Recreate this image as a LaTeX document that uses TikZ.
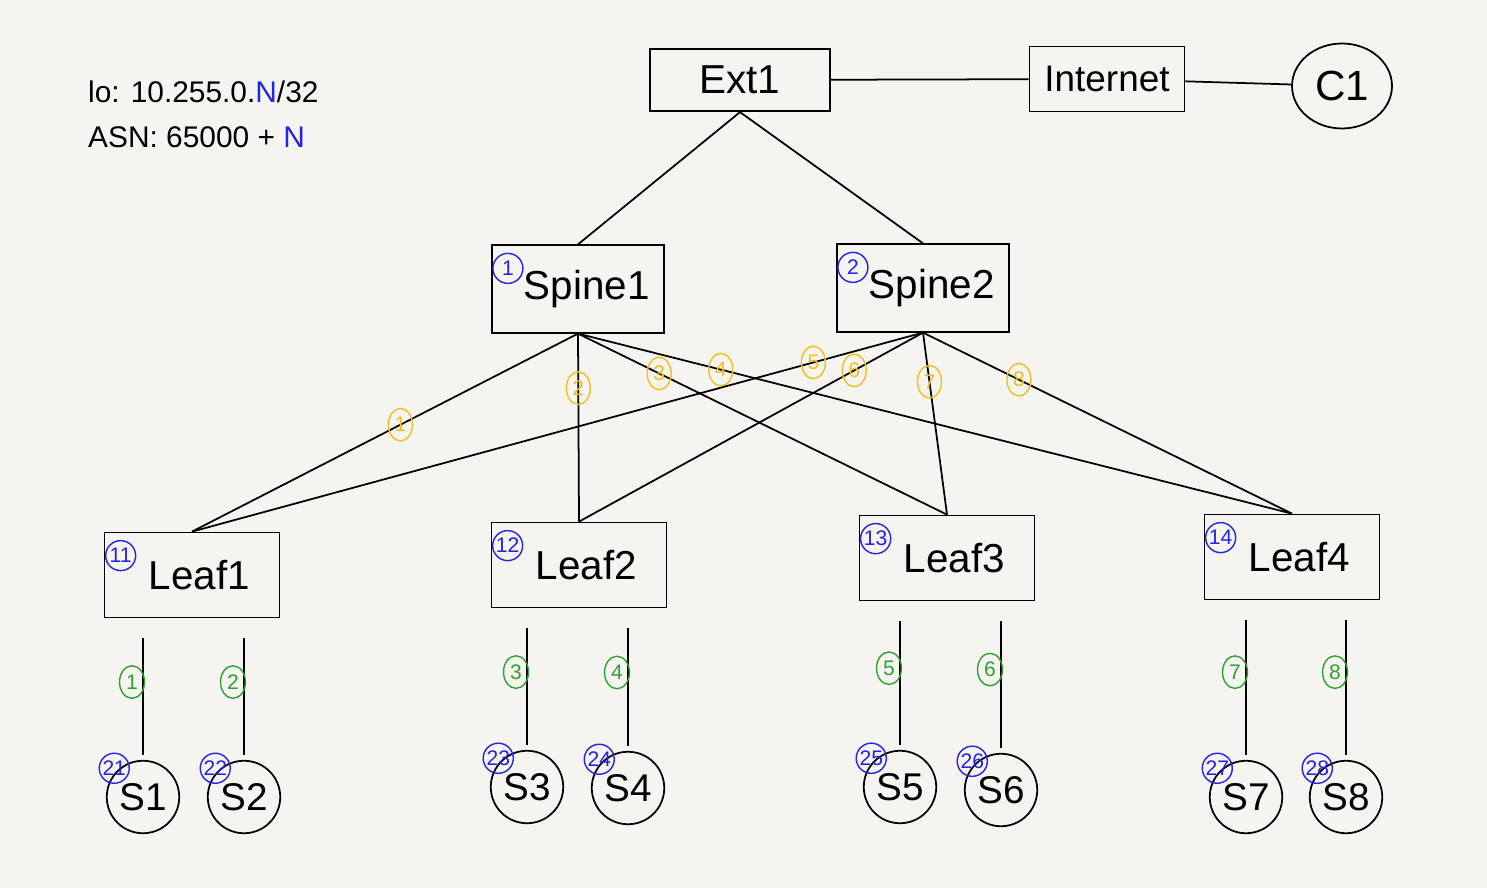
\documentclass[tikz,border=0pt]{standalone}
\usepackage{fontspec}
\setmainfont{Liberation Sans}
\usetikzlibrary{shapes.geometric}

\definecolor{paper}{HTML}{F5F4F0}
\definecolor{idblue}{HTML}{2424E6}
\definecolor{linkyellow}{HTML}{F0C020}
\definecolor{portgreen}{HTML}{33A033}

\tikzset{
	box/.style={draw, line width=1pt, minimum width=3.5cm, minimum height=1.7cm, font=\fontsize{23}{28}\selectfont},
	srv/.style={draw, circle, line width=1pt, minimum size=1.45cm, inner sep=0pt, font=\fontsize{22}{26}\selectfont},
	badge/.style={draw=idblue, circle, text=idblue, inner sep=0.5pt, minimum size=0.6cm, line width=0.8pt, font=\fontsize{12}{14}\selectfont},
	lnk/.style={draw=linkyellow, ellipse, text=linkyellow, inner sep=0.5pt, minimum width=0.48cm, minimum height=0.65cm, line width=0.8pt, font=\fontsize{12}{14}\selectfont},
	prt/.style={draw=portgreen, ellipse, text=portgreen, inner sep=0.5pt, minimum width=0.5cm, minimum height=0.65cm, line width=0.8pt, font=\fontsize{12}{14}\selectfont},
	wire/.style={line width=1pt}
}

\begin{document}
\begin{tikzpicture}[x=0.02cm, y=-0.02cm]

\fill[paper] (0,0) rectangle (1487,888);

% legend
\node [anchor=west, font=\fontsize{17}{20}\selectfont] (lo) at (82,92) {lo: 10.255.0.\textcolor{idblue}{N}/32};
\node [anchor=west, font=\fontsize{17}{20}\selectfont] (asn) at (82,137) {ASN: 65000 + \textcolor{idblue}{N}};

% outside
\node [box, minimum width=3.6cm, minimum height=1.25cm] (ext) at (740,80) {Ext1};
\node [box, minimum width=3.1cm, minimum height=1.3cm, font=\fontsize{21}{26}\selectfont] (inet) at (1107,79) {Internet};
\node [draw, ellipse, line width=1pt, minimum width=2cm, minimum height=1.7cm, font=\fontsize{24}{28}\selectfont] (c1) at (1342,86) {C1};

% spines and leaves
\node [box, minimum width=3.45cm, minimum height=1.75cm] (spine1) at (578,289) {\hspace{0.35cm}Spine1};
\node [box, minimum width=3.45cm, minimum height=1.75cm] (spine2) at (923,288) {\hspace{0.35cm}Spine2};
\node [box] (leaf1) at (192,575) {\hspace{0.3cm}Leaf1};
\node [box] (leaf2) at (579,565) {\hspace{0.3cm}Leaf2};
\node [box] (leaf3) at (947,558) {\hspace{0.3cm}Leaf3};
\node [box] (leaf4) at (1292,557) {\hspace{0.3cm}Leaf4};

% servers
\foreach \n/\x/\y in {1/143/797,2/244/797,3/527/787,4/628/788,5/900/787,6/1001/790,7/1246/797,8/1346/797} {
	\node [srv] (s\n) at (\x,\y) {S\n};
}

% ids
\foreach \n/\i in {spine1/1,spine2/2,leaf1/11,leaf2/12,leaf3/13,leaf4/14} {
	\node [badge] (id\n) at ([shift={(0.34cm,-0.48cm)}]\n.north west) {\i};
}
\foreach \n/\i in {1/21,2/22,3/23,4/24,5/25,6/26,7/27,8/28} {
	\node [badge] (ids\n) at ([shift={(-0.05cm,0.05cm)}]s\n.north west) {\i};
}

% links
\draw [wire] (ext) -- (inet);
\draw [wire] (inet) -- (c1);
\draw [wire] (ext.south) -- (spine1.north);
\draw [wire] (ext.south) -- (spine2.north);

\foreach \s/\l/\p/\t in {spine1/leaf1/1/.46,spine1/leaf2/2/.29,spine1/leaf3/3/.22,spine1/leaf4/4/.2,
	spine2/leaf1/5/.15,spine2/leaf2/6/.2,spine2/leaf3/7/.27,spine2/leaf4/8/.26} {
	\draw [wire] (\s.south) -- (\l.north) node [lnk, pos=\t] (l\p) {\p};
}

\foreach \s/\l/\p in {1/leaf1/1,2/leaf1/2,3/leaf2/3,4/leaf2/4,5/leaf3/5,6/leaf3/6,7/leaf4/7,8/leaf4/8} {
	\draw [wire, shorten <=0.4cm, shorten >=0.1cm] (s\s |- \l.south) -- (s\s.north) node [prt, pos=.45, xshift=-0.22cm] (p\p) {\p};
}

\end{tikzpicture}
\end{document}
